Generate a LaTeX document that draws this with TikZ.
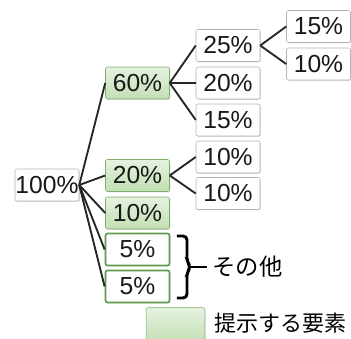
\documentclass[tikz,border=0pt]{standalone}
\usepackage{fontspec}
\setmainfont{Liberation Sans}
\newfontfamily\jpfont{Noto Sans CJK JP}
\usetikzlibrary{shadows}
\definecolor{keytop}{HTML}{E6F2E0}
\definecolor{keybot}{HTML}{C2DFB3}
\definecolor{keyline}{HTML}{7DAF68}
\definecolor{restline}{HTML}{5E9A4C}
\tikzset{
	pctbox/.style={draw=black!30, fill=white, rounded corners=1.5pt, minimum width=48pt, minimum height=24pt, inner sep=0pt, text=black!90, font=\fontsize{18.5}{20}\selectfont, drop shadow={opacity=0.25, shadow xshift=0.7pt, shadow yshift=-0.7pt}},
	keybox/.style={pctbox, draw=keyline, top color=keytop, bottom color=keybot},
	restbox/.style={pctbox, draw=restline, line width=1.3pt},
	branch/.style={line width=1.4pt, draw=black!85},
}

\begin{document}
\begin{tikzpicture}[x=0.75pt, y=-0.75pt]
			%%%%% START %%%%%
			
			\useasboundingbox (0, 0) rectangle (351, 339);
			
			\node[pctbox] (all) at (47, 185) {100\%};
			
			\node[keybox] (k60) at (137.5, 83) {60\%};
			\node[keybox] (k20) at (137.5, 175.5) {20\%};
			\node[keybox] (k10) at (137.5, 213) {10\%};
			\node[restbox] (r5a) at (137.5, 249.5) {5\%};
			\node[restbox] (r5b) at (137.5, 286.5) {5\%};
			
			\node[pctbox] (s25) at (228, 45.5) {25\%};
			\node[pctbox] (s20) at (228, 83) {20\%};
			\node[pctbox] (s15) at (228, 120) {15\%};
			\node[pctbox] (s10a) at (228, 157) {10\%};
			\node[pctbox] (s10b) at (228, 193.5) {10\%};
			
			\node[pctbox] (t15) at (318.5, 26.5) {15\%};
			\node[pctbox] (t10) at (318.5, 64) {10\%};
			
			\draw[branch] (all.east) -- (k60.west);
			\draw[branch] (all.east) -- (k20.west);
			\draw[branch] (all.east) -- (k10.west);
			\draw[branch] (all.east) -- (r5a.west);
			\draw[branch] (all.east) -- (r5b.west);
			
			\draw[branch] (k60.east) -- (s25.west);
			\draw[branch] (k60.east) -- (s20.west);
			\draw[branch] (k60.east) -- (s15.west);
			\draw[branch] (k20.east) -- (s10a.west);
			\draw[branch] (k20.east) -- (s10b.west);
			
			\draw[branch] (s25.east) -- (t15.west);
			\draw[branch] (s25.east) -- (t10.west);
			
			% brace
			\coordinate (tip) at (191, 267);
			\draw[line width=2.2pt, rounded corners=3pt] (177, 236) -- (187, 236) -- (187, 262) -- (tip) -- (187, 272) -- (187, 298) -- (177, 298);
			\node[anchor=west, inner sep=4pt, font=\jpfont\fontsize{17.5}{19}\selectfont] (others) at (207, 267) {その他};
			\draw[line width=2.2pt] (tip) -- (others.west);
			
			% legend
			\node[keybox, minimum width=44pt, minimum height=26pt, drop shadow={opacity=0}] (legend) at (175.5, 325) {};
			\node[anchor=west, inner sep=2pt, font=\jpfont\fontsize{16.5}{18}\selectfont] (legendtext) at (212, 323) {提示する要素};
			
			%%%%% END %%%%%
\end{tikzpicture}
\end{document}
